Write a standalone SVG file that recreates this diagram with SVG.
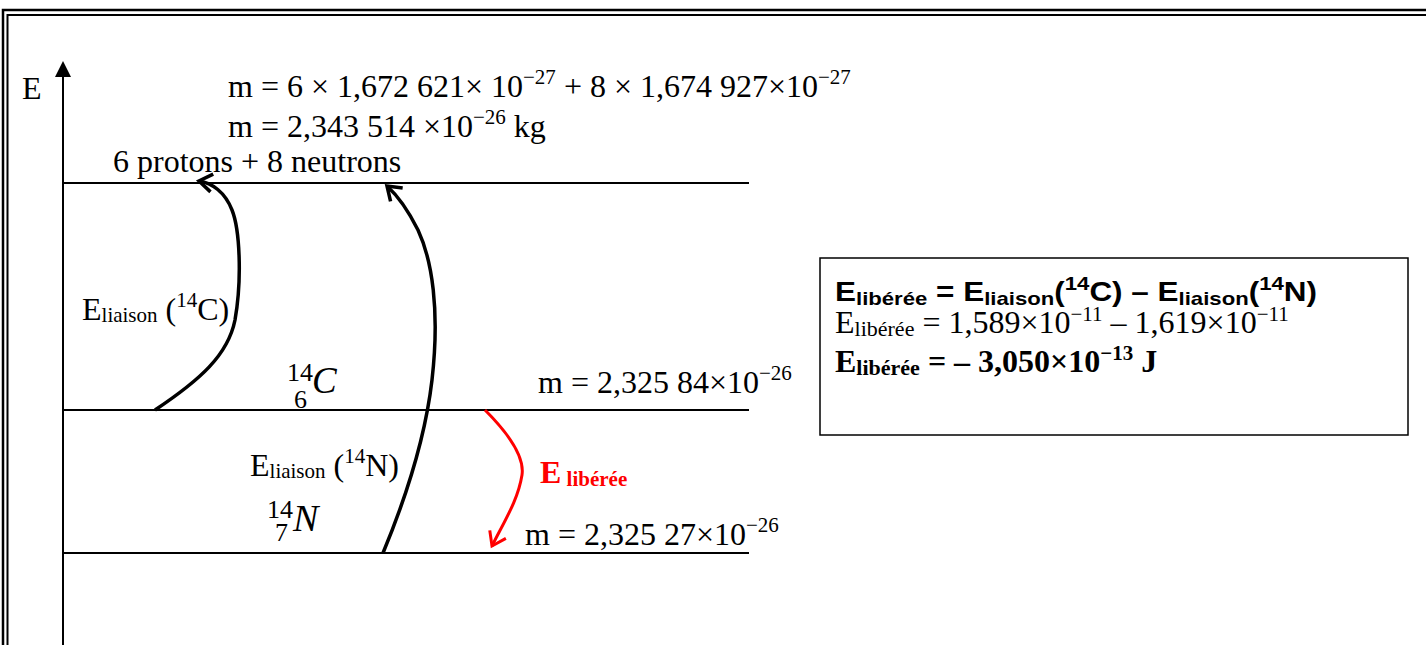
<svg xmlns="http://www.w3.org/2000/svg" width="1426" height="645" viewBox="0 0 1426 645">
<style>
.t{font-family:"Liberation Serif","Times New Roman",serif;font-size:32px;fill:#000}
.s{font-size:21px}
.sub{font-size:21px}
.it{font-style:italic}
.lvl{stroke:#000;stroke-width:2;fill:none}
.arr{stroke:#000;stroke-width:3.5;fill:none;marker-end:url(#hb)}
.red{stroke:#f00;stroke-width:3;fill:none;marker-end:url(#hr)}
.bx{font-family:"Liberation Sans",Arial,sans-serif;font-weight:bold;font-size:27px}
</style>
<defs>
<marker id="hb" markerUnits="userSpaceOnUse" orient="auto" overflow="visible" markerWidth="1" markerHeight="1" refX="0" refY="0">
<path d="M-13,-9 L0,0 L-13,9" fill="none" stroke="#000" stroke-width="3.5"/>
</marker>
<marker id="hr" markerUnits="userSpaceOnUse" orient="auto" overflow="visible" markerWidth="1" markerHeight="1" refX="0" refY="0">
<path d="M-13,-9 L0,0 L-13,9" fill="none" stroke="#f00" stroke-width="3"/>
</marker>
</defs>
<rect width="1426" height="645" fill="#fff"/>
<g id="frame" fill="none" stroke="#000">
<path d="M3,645 V10 H1426" stroke-width="2.5"/>
<path d="M7.5,645 V15 H1426" stroke-width="2"/>
</g>
<g id="axis">
<line x1="63" y1="645" x2="63" y2="74" stroke="#000" stroke-width="2"/>
<path d="M55,77 L63,61 L71,77 Z" fill="#000"/>
<text class="t" x="22" y="99">E</text>
</g>
<g id="level-nucleons">
<line class="lvl" x1="63" y1="183" x2="749" y2="183"/>
<text class="t" x="228" y="97">m = 6 × 1,672 621× 10<tspan class="s" dy="-13">−27</tspan><tspan dy="13"> + 8 × 1,674 927×10</tspan><tspan class="s" dy="-13">−27</tspan></text>
<text class="t" x="228" y="137">m = 2,343 514 ×10<tspan class="s" dy="-13">−26</tspan><tspan dy="13"> kg</tspan></text>
<text class="t" x="113" y="172">6 protons + 8 neutrons</text>
</g>
<g id="level-C14">
<line class="lvl" x1="63" y1="410" x2="749" y2="410"/>
<text class="t" x="287" y="381" style="font-size:26px">14</text>
<text class="t" x="294" y="408" style="font-size:26px">6</text>
<text class="t it" x="312" y="393" style="font-size:37px">C</text>
<text class="t" x="538" y="393">m = 2,325 84×10<tspan class="s" dy="-13">−26</tspan></text>
</g>
<g id="level-N14">
<line class="lvl" x1="63" y1="553" x2="749" y2="553"/>
<text class="t" x="267" y="518" style="font-size:26px">14</text>
<text class="t" x="275" y="541" style="font-size:26px">7</text>
<text class="t it" x="293" y="531" style="font-size:38px">N</text>
<text class="t" x="525" y="545">m = 2,325 27×10<tspan class="s" dy="-13">−26</tspan></text>
</g>
<g id="connectors">
<path class="arr" d="M155,410 C200,380 228,355 235,320 C242,280 240,230 232,210 C225,192 212,183 199,181"/>
<path class="arr" d="M383,553 C405,500 425,440 432,380 C440,310 432,260 418,230 C408,210 398,196 387,186"/>
<path class="red" d="M485,410 C505,430 525,455 522,475 C518,500 505,520 492,546"/>
</g>
<g id="labels">
<text class="t" x="82" y="320">E<tspan class="sub" dy="2">liaison</tspan><tspan dy="-2"> (</tspan><tspan class="s" dy="-13">14</tspan><tspan dy="13">C)</tspan></text>
<text class="t" x="250" y="476">E<tspan class="sub" dy="2">liaison</tspan><tspan dy="-2"> (</tspan><tspan class="s" dy="-13">14</tspan><tspan dy="13">N)</tspan></text>
<text class="t" x="540" y="483" font-weight="bold" style="fill:#f00">E<tspan style="font-size:21px" dy="3"> libérée</tspan></text>
</g>
<g id="result-box">
<rect x="820" y="258" width="588" height="177" fill="#fff" stroke="#000" stroke-width="1.5"/>
<text class="bx" x="835" y="301" textLength="482" lengthAdjust="spacingAndGlyphs">E<tspan style="font-size:19px" dy="4">libérée</tspan><tspan dy="-4"> = E</tspan><tspan style="font-size:19px" dy="4">liaison</tspan><tspan dy="-4">(</tspan><tspan style="font-size:19px" dy="-11">14</tspan><tspan dy="11">C) – E</tspan><tspan style="font-size:19px" dy="4">liaison</tspan><tspan dy="-4">(</tspan><tspan style="font-size:19px" dy="-11">14</tspan><tspan dy="11">N)</tspan></text>
<text class="t" x="835" y="333">E<tspan style="font-size:22px" dy="3">libérée</tspan><tspan dy="-3"> = 1,589×10</tspan><tspan style="font-size:21px" dy="-12">−11</tspan><tspan dy="12"> – 1,619×10</tspan><tspan style="font-size:21px" dy="-12">−11</tspan></text>
<text class="t" x="835" y="372" font-weight="bold">E<tspan style="font-size:22px" dy="3">libérée</tspan><tspan dy="-3"> = – 3,050×10</tspan><tspan style="font-size:21px" dy="-12">−13</tspan><tspan dy="12"> J</tspan></text>
</g>
</svg>
